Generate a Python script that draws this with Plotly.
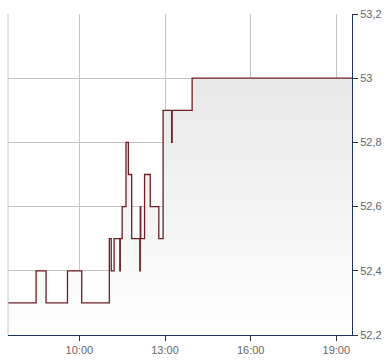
import plotly.graph_objects as go

day = "2024-01-15 "
times = ["07:30", "08:29", "08:50", "09:35", "10:05", "11:03", "11:07", "11:13",
         "11:25", "11:26", "11:30", "11:38", "11:43", "11:50", "12:07", "12:08",
         "12:09", "12:17", "12:29", "12:47", "12:56", "13:14", "13:15", "13:57", "19:33"]
prices = [52.3, 52.4, 52.3, 52.4, 52.3, 52.5, 52.4, 52.5,
          52.4, 52.5, 52.6, 52.8, 52.7, 52.5, 52.4, 52.6,
          52.5, 52.7, 52.6, 52.5, 52.9, 52.8, 52.9, 53.0, 53.0]
tick_times = ["10:00", "13:00", "16:00", "19:00"]
y_ticks = [52.2, 52.4, 52.6, 52.8, 53.0, 53.2]

x = [day + t for t in times]

fig = go.Figure()
fig.add_trace(go.Scatter(
    x=x, y=prices, mode="lines", line_shape="hv",
    line=dict(color="#6b1e24", width=1.3),
    fill="tozeroy",
    fillgradient=dict(type="vertical", start=52.2, stop=53.0,
                      colorscale=[[0, "#ffffff"], [1, "#e8e8e8"]]),
    hoverinfo="skip", showlegend=False,
))

fig.update_layout(
    width=390, height=364,
    margin=dict(l=8, r=38, t=11, b=26),
    paper_bgcolor="white", plot_bgcolor="white",
    separators=",.",
    font=dict(family="Liberation Sans, Arial", size=11, color="#666666"),
    xaxis=dict(
        range=[day + "07:30", day + "19:33"],
        tickvals=[day + t for t in tick_times], ticktext=tick_times,
        showgrid=True, gridcolor="#c4c4c4", gridwidth=1,
        showline=True, linecolor="#1c3468", linewidth=1,
        ticks="outside", ticklen=5, tickcolor="#333333",
        zeroline=False, fixedrange=True,
    ),
    yaxis=dict(
        side="right", range=[52.2, 53.2], tickvals=y_ticks,
        showgrid=True, gridcolor="#c4c4c4", gridwidth=1,
        showline=True, linecolor="#1c3468", linewidth=1,
        ticks="outside", ticklen=5, tickcolor="#333333",
        zeroline=False, fixedrange=True,
    ),
    shapes=[dict(type="line", xref="paper", yref="paper", x0=0, x1=0, y0=0, y1=1,
                 line=dict(color="#c4c4c4", width=1))],
)

fig.write_html("out.html")
